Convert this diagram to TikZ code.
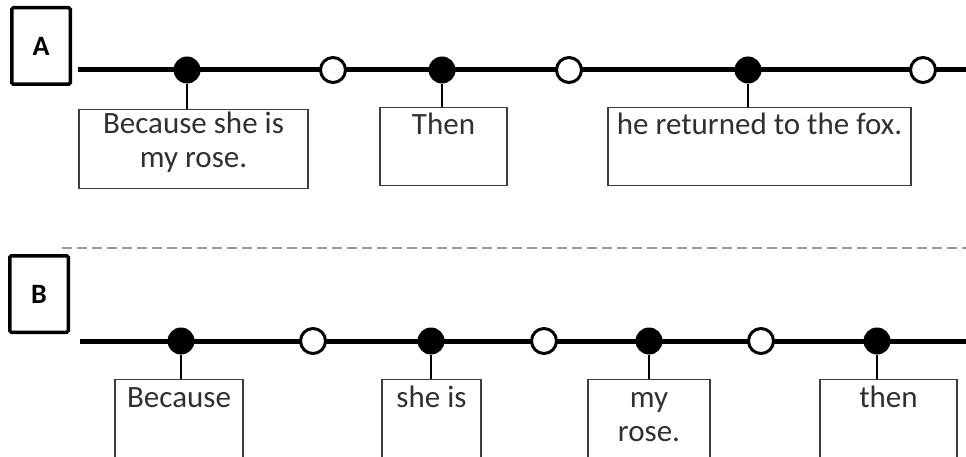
\documentclass[tikz,border=0pt]{standalone}
\usepackage{fontspec}
\setmainfont{Carlito}
\usepackage{tikz}
\usetikzlibrary{positioning}
\definecolor{inkgray}{HTML}{303030}
\definecolor{framegray}{HTML}{3C3C3C}
\definecolor{dashgray}{HTML}{9A9A9A}
\tikzset{
  tagbox/.style={draw=black, line width=3.5pt, rounded corners=1.5pt, minimum width=58.5, minimum height=76.5,
                 font=\fontsize{28}{32}\selectfont\bfseries, text=black},
  track/.style={line width=5pt, color=black},
  fulldot/.style={circle, fill=black, inner sep=0pt, minimum size=27},
  opendot/.style={circle, fill=white, draw=black, line width=3pt, inner sep=0pt, minimum size=25},
  stem/.style={line width=1.5pt, color=black},
  wordbox/.style={draw=framegray, line width=1.3pt, anchor=north, inner sep=0pt},
  % base of a two-line label sits on its last line
  words/.style={font=\fontsize{31}{34}\selectfont, text=inkgray, align=center, anchor=base, inner sep=0pt},
}
\begin{document}
\begin{tikzpicture}[x=1pt, y=-1pt]
  \useasboundingbox (0,0) rectangle (966,457);
  \clip (0,0) rectangle (966,457);

  % --- row A ---
  \node[tagbox] (tagA) at (41,46) {A};
  \coordinate (a0) at (78,70);
  \coordinate (aend) at (968,70);
  \draw[track] (a0) -- (aend);
  \node[fulldot] (da1) at (187,70) {};
  \node[opendot] (oa1) at (333,70) {};
  \node[fulldot] (da2) at (442,70) {};
  \node[opendot] (oa2) at (569,70) {};
  \node[fulldot] (da3) at (748,70) {};
  \node[opendot] (oa3) at (923,70) {};

  \node[wordbox, minimum width=229, minimum height=79] (a1) at (193.5,109) {};
  \node[wordbox, minimum width=127, minimum height=78] (a2) at (443.5,107) {};
  \node[wordbox, minimum width=303, minimum height=78] (a3) at (759.5,107) {};
  \node[words] (a1txt) at (193.5,168) {Because she is\\my rose.};
  \node[words] (a2txt) at (443.5,135) {Then};
  \node[words] (a3txt) at (759.5,135) {he returned to the fox.};
  \draw[stem] (da1) -- (da1 |- a1.north);
  \draw[stem] (da2) -- (da2 |- a2.north);
  \draw[stem] (da3) -- (da3 |- a3.north);

  % separator
  \coordinate (sep0) at (62,248);
  \coordinate (sepend) at (968,248);
  \draw[dashgray, line width=1.2pt, dash pattern=on 10pt off 5pt] (sep0) -- (sepend);

  % --- row B ---
  \node[tagbox] (tagB) at (39,294) {B};
  \coordinate (b0) at (80,341);
  \coordinate (bend) at (968,341);
  \draw[track] (b0) -- (bend);
  \node[fulldot] (db1) at (181,341) {};
  \node[opendot] (ob1) at (313,341) {};
  \node[fulldot] (db2) at (431,341) {};
  \node[opendot] (ob2) at (544,341) {};
  \node[fulldot] (db3) at (649,341) {};
  \node[opendot] (ob3) at (761,341) {};
  \node[fulldot] (db4) at (877,341) {};

  \node[wordbox, minimum width=128, minimum height=100] (b1) at (179,379) {};
  \node[wordbox, minimum width=99, minimum height=100] (b2) at (431.5,379) {};
  \node[wordbox, minimum width=122, minimum height=100] (b3) at (649,379) {};
  \node[wordbox, minimum width=137, minimum height=100] (b4) at (888.5,379) {};
  \node[words] (b1txt) at (179,407) {Because};
  \node[words] (b2txt) at (431.5,407) {she is};
  \node[words] (b3txt) at (649,441) {my\\rose.};
  \node[words] (b4txt) at (888.5,407) {then};
  \draw[stem] (db1) -- (db1 |- b1.north);
  \draw[stem] (db2) -- (db2 |- b2.north);
  \draw[stem] (db3) -- (db3 |- b3.north);
  \draw[stem] (db4) -- (db4 |- b4.north);
\end{tikzpicture}
\end{document}
